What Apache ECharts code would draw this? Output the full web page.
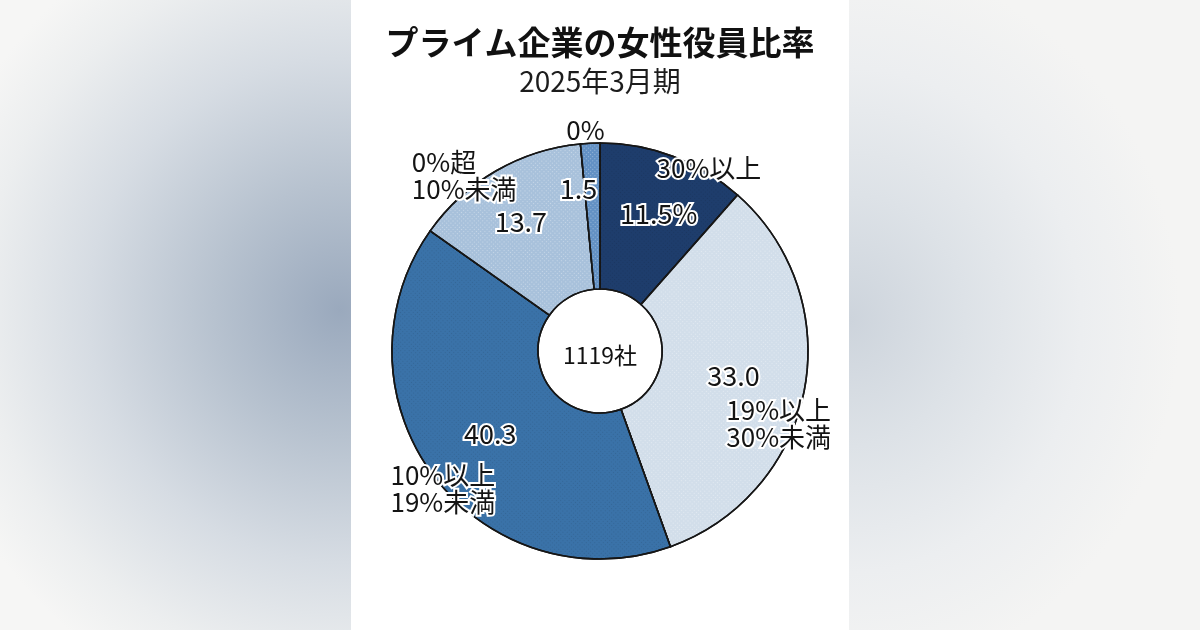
<!DOCTYPE html>
<html>
<head>
<meta charset="utf-8">
<script src="https://cdn.jsdelivr.net/npm/echarts@6/dist/echarts.min.js"></script>
<style>
  html, body { margin: 0; padding: 0; width: 1200px; height: 630px; overflow: hidden; }
  body {
    background:
      radial-gradient(ellipse 420px 420px at 340px 310px, #9aa9bd 0%, #b7c2cf 30%, #d6dce3 60%, #eceeef 85%, #f6f6f5 100%) left top / 600px 630px no-repeat,
      radial-gradient(ellipse 330px 360px at 250px 320px, #cdd4dc 0%, #dde2e7 35%, #eceef0 70%, #f4f4f3 100%) right top / 600px 630px no-repeat,
      #f4f4f3;
  }
  #panel { position: absolute; left: 351px; top: 0; width: 498px; height: 630px; background: #ffffff; }
  #chart { position: absolute; left: 0; top: 0; width: 1200px; height: 630px; }
</style>
</head>
<body>
<div id="panel"></div>
<div id="chart"></div>
<script>
// ---- data ----
const titleText = 'プライム企業の女性役員比率';
const subtitleText = '2025年3月期';
const centerText = '1119社';
const categories = ['30%以上', '19%以上\n30%未満', '10%以上\n19%未満', '0%超\n10%未満', '0%'];
const shares = [11.5, 33.0, 40.3, 13.7, 1.5];

// ---- styling ----
const sliceColors = ['#1e3d6c', '#d2deea', '#3a72a8', '#a8c1db', '#6391c4'];
const valueNudge = [[10, -8], [-2, -1], [0, -1], [-10, -10], [-15, -24]];
const nameNudge = [[38, 12], [-23, 34], [11, 12], [-29, 5], [31, -13]];
const NAME_BOX = 110;
const FONT = '"Noto Sans CJK JP", "Noto Sans", sans-serif';
const CX = 600, CY = 351;

const chart = echarts.init(document.getElementById('chart'), null, { renderer: 'canvas' });

const haloLabel = {
  fontFamily: FONT,
  fontSize: 27,
  color: '#141414',
  textBorderColor: '#ffffff',
  textBorderWidth: 4,
  lineHeight: 27
};

const valueData = shares.map((v, i) => ({
  name: categories[i],
  value: v,
  itemStyle: {
    color: sliceColors[i],
    decal: {
      symbol: 'rect',
      symbolSize: 1,
      dashArrayX: [1, 2],
      dashArrayY: [1, 2],
      rotation: 0.78,
      color: i === 0 || i === 2 ? 'rgba(0,0,0,0.10)' : 'rgba(255,255,255,0.35)'
    }
  },
  label: {
    offset: valueNudge[i],
    formatter: i === 0 ? v.toFixed(1) + '%' : v.toFixed(1)
  }
}));

const nameData = shares.map((v, i) => ({
  name: categories[i],
  value: v,
  label: { offset: nameNudge[i] }
}));

const nameRich = {
  n: {
    width: NAME_BOX,
    align: 'left',
    fontFamily: FONT,
    fontSize: 26,
    lineHeight: 27,
    color: '#141414',
    textBorderColor: '#ffffff',
    textBorderWidth: 4
  }
};

chart.setOption({
  animation: false,
  title: [
    {
      text: titleText,
      left: 'center',
      top: 19,
      textStyle: { fontFamily: FONT, fontSize: 33, fontWeight: 'bold', color: '#111', lineHeight: 36 }
    },
    {
      text: subtitleText,
      left: 'center',
      top: 60,
      textStyle: { fontFamily: FONT, fontSize: 28, fontWeight: 'normal', color: '#1c1c1c', lineHeight: 32 }
    },
    {
      text: centerText,
      left: 'center',
      top: CY - 15,
      textStyle: { fontFamily: FONT, fontSize: 23, fontWeight: 'normal', color: '#111', lineHeight: 28 }
    }
  ],
  series: [
    {
      type: 'pie',
      center: [CX, CY],
      radius: [62, 208],
      startAngle: 90,
      clockwise: true,
      avoidLabelOverlap: false,
      silent: true,
      itemStyle: { borderColor: '#161616', borderWidth: 1.6 },
      label: Object.assign({ show: true, position: 'inside' }, haloLabel),
      labelLine: { show: false },
      emphasis: { disabled: true },
      data: valueData
    },
    {
      type: 'pie',
      center: [CX, CY],
      radius: [200, 210],
      startAngle: 90,
      clockwise: true,
      avoidLabelOverlap: false,
      silent: true,
      z: 5,
      itemStyle: { color: 'rgba(0,0,0,0)', borderWidth: 0 },
      label: Object.assign({ show: true, position: 'inside' }, haloLabel, {
        fontSize: 26,
        formatter: p => p.name.split('\n').map(s => '{n|' + s + '}').join('\n'),
        rich: nameRich
      }),
      labelLine: { show: false },
      emphasis: { disabled: true },
      data: nameData
    }
  ]
});
</script>
</body>
</html>
